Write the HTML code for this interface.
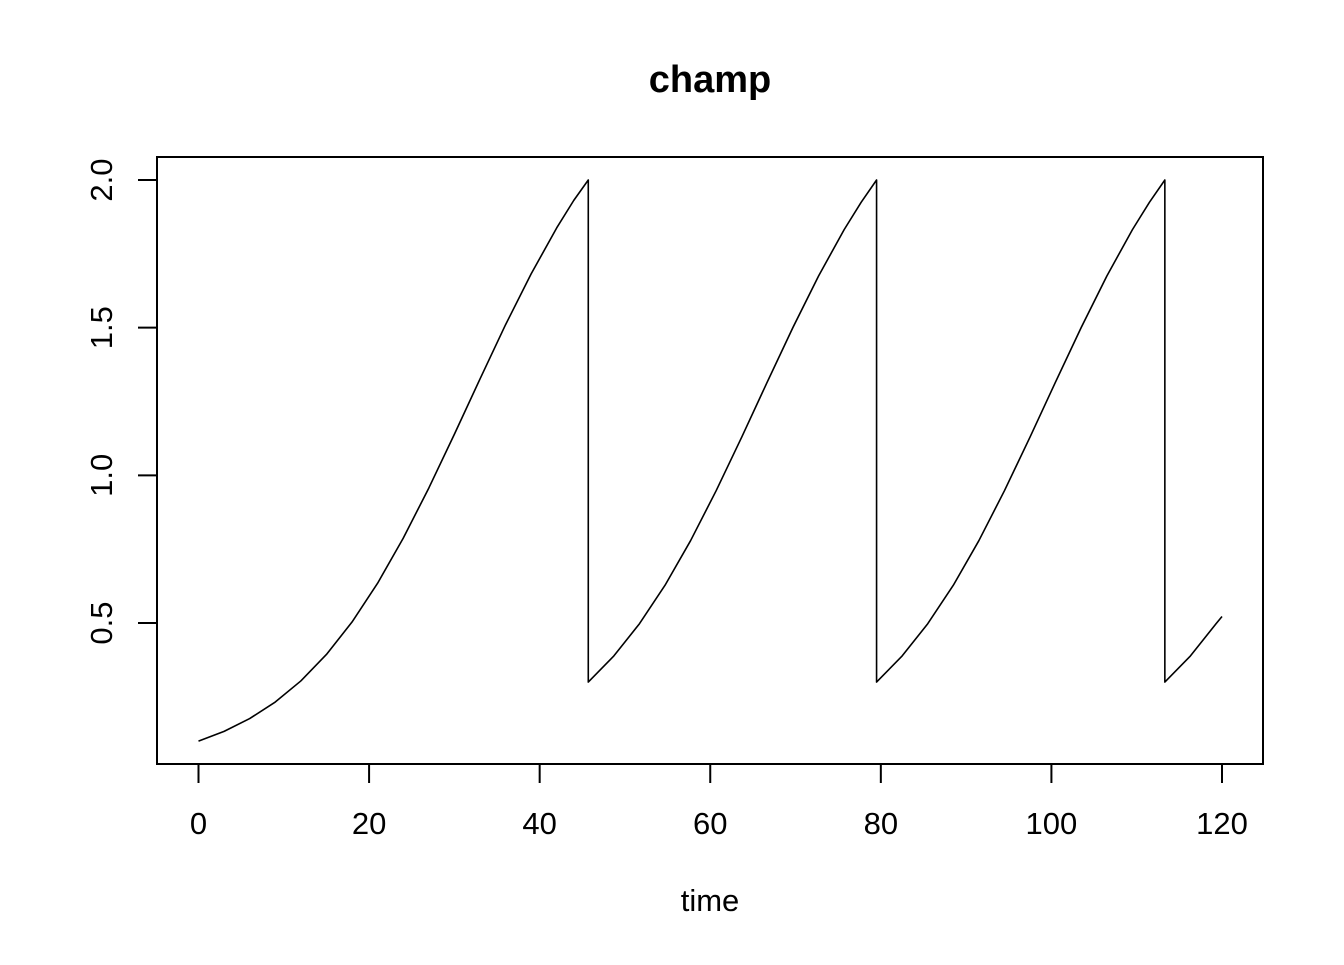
<!DOCTYPE html>
<html><head><meta charset="utf-8"><style>
html,body{margin:0;padding:0;background:#fff;}
svg text{font-family:"Liberation Sans",Arial,sans-serif;fill:#000;}
</style></head><body>
<svg id="chart" width="1344" height="960" xmlns="http://www.w3.org/2000/svg">
<rect width="1344" height="960" fill="#fff"/>
<text x="710" y="92" text-anchor="middle" font-size="38" font-weight="bold">champ</text>
<text x="710" y="911" text-anchor="middle" font-size="31">time</text>
<rect x="157" y="157" width="1106" height="607" fill="none" stroke="#000" stroke-width="2"/>
<g id="xaxis"></g>
<g id="yaxis"></g>
<path id="line" fill="none" stroke="#000" stroke-width="1.6" stroke-linejoin="round"/>
</svg>
<script>
const times = [0,3,6,9,12,15,18,21,24,27,30,33,36,39,42,44,45.7,
  45.7,48.7,51.7,54.7,57.7,60.7,63.7,66.7,69.7,72.7,75.7,77.7,79.5,
  79.5,82.5,85.5,88.5,91.5,94.5,97.5,100.5,103.5,106.5,109.5,111.5,113.3,
  113.3,116.3,119.3,120];
const values = [0.1,0.1331,0.1764,0.2324,0.3038,0.3934,0.5033,0.6347,0.7869,0.9568,1.139,1.326,1.510,1.682,1.838,1.931,2.0,
  0.3,0.3886,0.4975,0.6279,0.7791,0.9484,1.130,1.317,1.501,1.675,1.832,1.925,2.0,
  0.3,0.3886,0.4975,0.6279,0.7791,0.9484,1.130,1.317,1.501,1.675,1.832,1.925,2.0,
  0.3,0.3886,0.4975,0.522];
const xTicks = [0,20,40,60,80,100,120];
const yTicks = [0.5,1.0,1.5,2.0];
const yTickLabels = ["0.5","1.0","1.5","2.0"];

const NS = "http://www.w3.org/2000/svg";
function xScale(v){ return 198.5 + (v - 0) * (1222 - 198.5) / 120; }
function yScale(v){ return 623 + (0.5 - v) * (623 - 180) / 1.5; }

const xg = document.getElementById('xaxis');
const xl = document.createElementNS(NS,'line');


xl.setAttribute('x1',xScale(xTicks[0]));xl.setAttribute('x2',xScale(xTicks[xTicks.length-1]));
xl.setAttribute('y1',764);xl.setAttribute('y2',764);xl.setAttribute('stroke','#000');xl.setAttribute('stroke-width','2');
xg.appendChild(xl);
xTicks.forEach(t=>{
  const l=document.createElementNS(NS,'line');
  
  
  l.setAttribute('x1',xScale(t));l.setAttribute('x2',xScale(t));l.setAttribute('y1',764);l.setAttribute('y2',783);
  l.setAttribute('stroke','#000');l.setAttribute('stroke-width','2');xg.appendChild(l);
  const tx=document.createElementNS(NS,'text');
  
  
  tx.setAttribute('x',xScale(t));tx.setAttribute('y',834);tx.setAttribute('text-anchor','middle');tx.setAttribute('font-size','31');
  tx.textContent=String(t);xg.appendChild(tx);
});
const yg = document.getElementById('yaxis');
const yl = document.createElementNS(NS,'line');


yl.setAttribute('x1',157);yl.setAttribute('x2',157);
yl.setAttribute('y1',yScale(yTicks[0]));yl.setAttribute('y2',yScale(yTicks[yTicks.length-1]));
yl.setAttribute('stroke','#000');yl.setAttribute('stroke-width','2');yg.appendChild(yl);
yTicks.forEach((t,i)=>{
  const l=document.createElementNS(NS,'line');
  
  
  l.setAttribute('x1',138);l.setAttribute('x2',157);l.setAttribute('y1',yScale(t));l.setAttribute('y2',yScale(t));
  l.setAttribute('stroke','#000');l.setAttribute('stroke-width','2');yg.appendChild(l);
  const tx=document.createElementNS(NS,'text');
  
  
  const y=yScale(t);
  tx.setAttribute('x',112);tx.setAttribute('y',y);tx.setAttribute('text-anchor','middle');tx.setAttribute('font-size','31');
  tx.setAttribute('transform','rotate(-90 112 '+y+')');
  tx.textContent=yTickLabels[i];yg.appendChild(tx);
});
let d='';
times.forEach((t,i)=>{ d+=(i?'L':'M')+xScale(t).toFixed(2)+' '+yScale(values[i]).toFixed(2); });
document.getElementById('line').setAttribute('d',d);
</script>
</body></html>
